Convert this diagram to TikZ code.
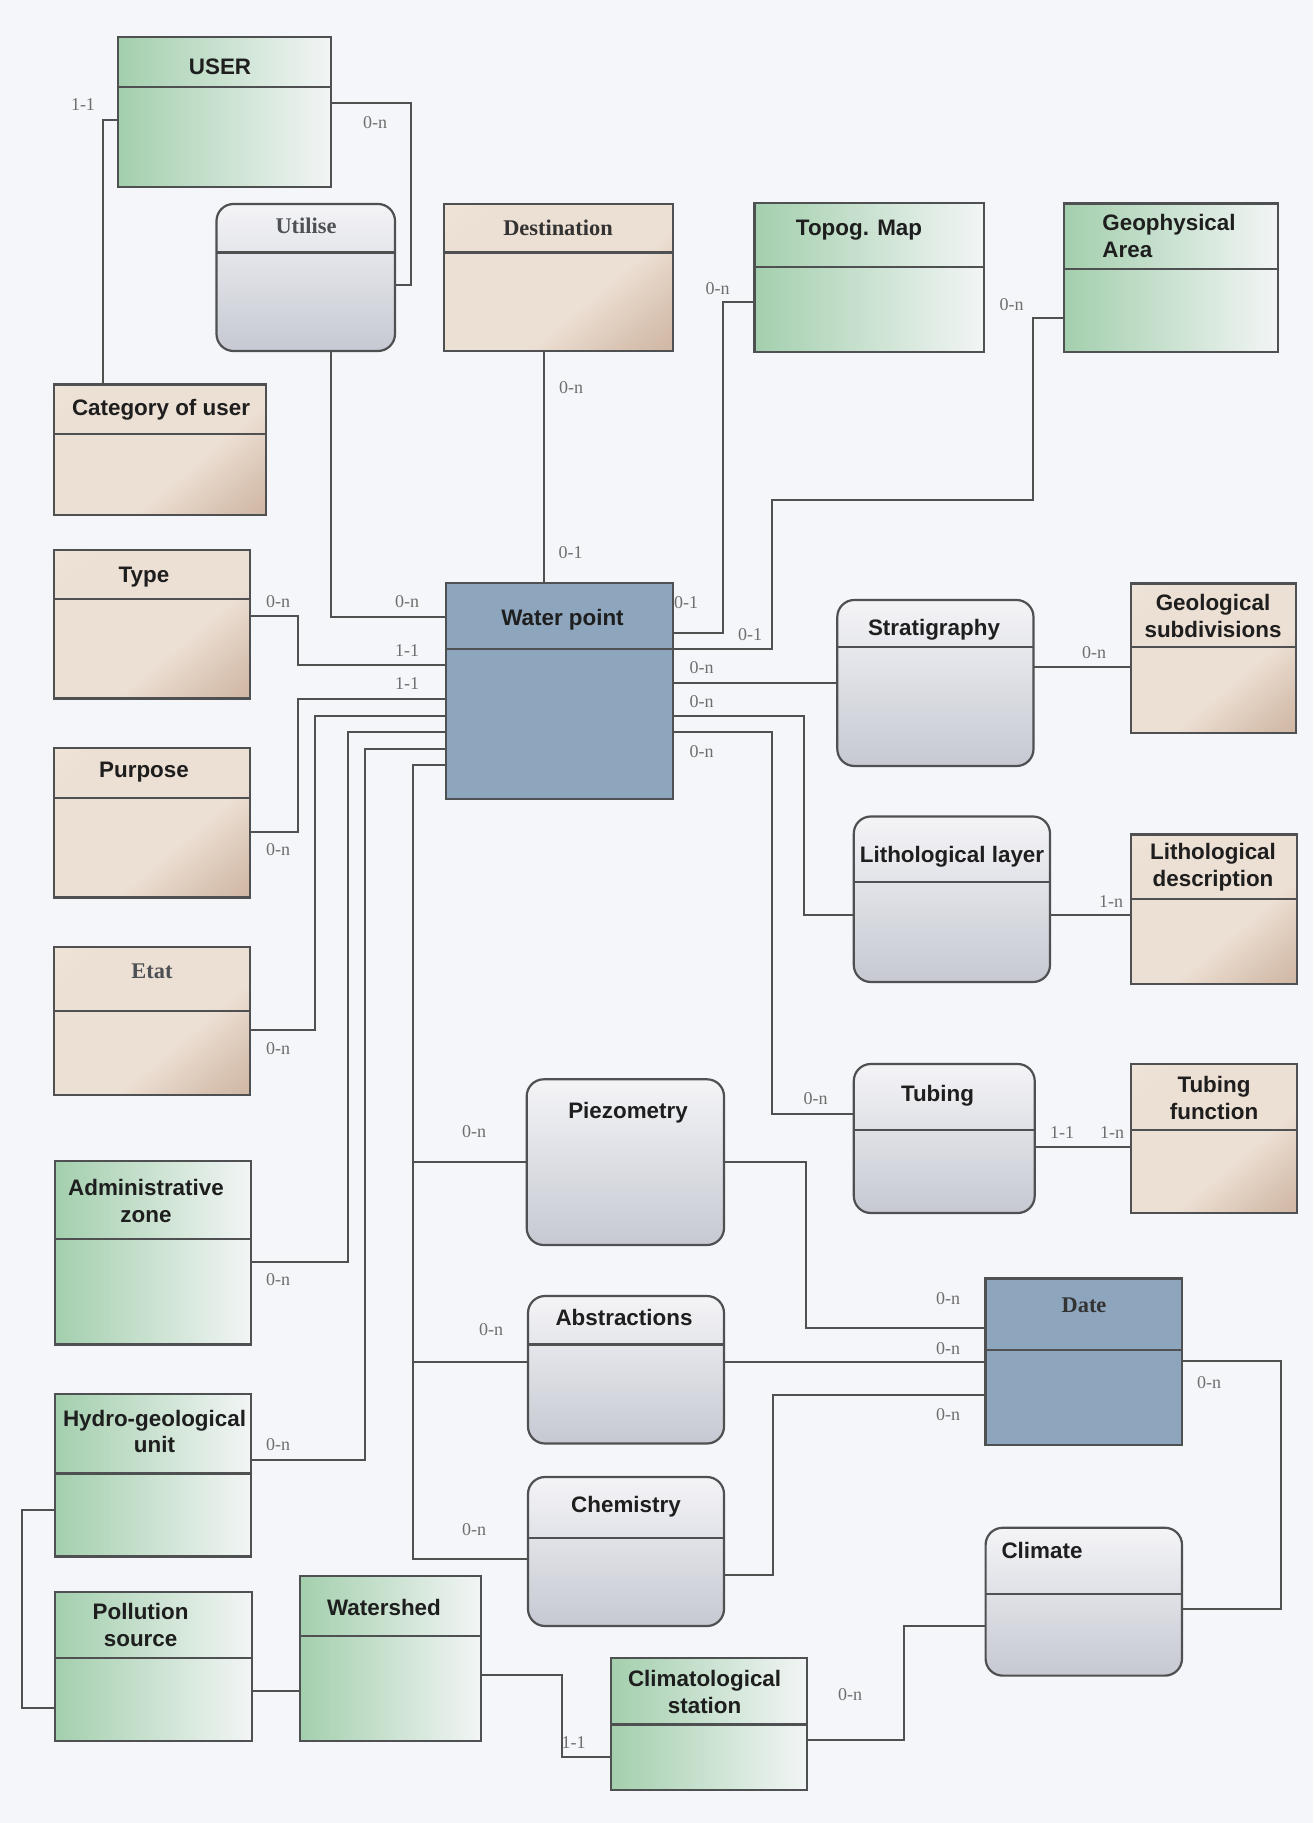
\documentclass[tikz,border=0pt]{standalone}
\usepackage{fontspec}
\setmainfont{Liberation Serif}
\newfontfamily\headsans{Liberation Sans}
\usetikzlibrary{fit}

\definecolor{bgc}{HTML}{F5F6F9}
\definecolor{edgec}{HTML}{4F5052}
\definecolor{wirec}{HTML}{505050}
\definecolor{greenL}{HTML}{A3CFAD}
\definecolor{greenR}{HTML}{F2F5F5}
\definecolor{beigeT}{HTML}{F4E9DF}
\definecolor{beigeM}{HTML}{ECDFD3}
\definecolor{beigeB}{HTML}{C4A690}
\definecolor{relT}{HTML}{F4F4F7}
\definecolor{relB}{HTML}{C6C9D2}
\definecolor{steel}{HTML}{8EA6BD}
\definecolor{cardc}{HTML}{6E6E6E}
\definecolor{titlec}{HTML}{1E1E1E}
\definecolor{serifc}{HTML}{4D5156}

% beige fill: light over most of the box, tan only towards one corner
\pgfdeclareverticalshading{beigeshade}{100bp}{%
  color(0bp)=(beigeB); color(22bp)=(beigeB!55!beigeM); color(40bp)=(beigeM);
  color(75bp)=(beigeM); color(100bp)=(beigeT)}

\begin{document}
\begin{tikzpicture}[x=0.5pt, y=-0.5pt,
  box/.style={draw=edgec, line width=1.1pt, inner sep=0pt, outer sep=0pt},
  greenent/.style={box, left color=greenL, right color=greenR},
  beigeent/.style={box, shading=beigeshade, shading angle=40},
  relbox/.style={box, rounded corners=8.5pt, top color=relT, bottom color=relB},
  blueent/.style={box, fill=steel},
  divider/.style={draw=edgec, line width=1.1pt},
  wire/.style={draw=wirec, line width=0.9pt},
  title/.style={font=\headsans\bfseries\fontsize{11.2}{13.4}\selectfont, text=titlec, align=center, inner sep=0pt},
  stitle/.style={font=\bfseries\fontsize{11.2}{13.4}\selectfont, text=serifc, align=center, inner sep=0pt},
  card/.style={font=\fontsize{9}{10}\selectfont, text=cardc, inner sep=0pt},
]
% page
\fill[bgc] (0,0) rectangle (1313,1823);
\useasboundingbox (0,0) rectangle (1313,1823);

% ---------- entities and associations ----------
\node[greenent, fit={(118,37) (331,187)}] (user) {};
\draw[divider] (user.west |- 0,87) -- (user.east |- 0,87);
\node[title] (user-t) at (220,67) {USER};

\node[relbox, fit={(216.5,204) (395,351)}] (util) {};
\draw[divider] (util.west |- 0,252.6) -- (util.east |- 0,252.6);
\node[stitle] (util-t) at (306,226) {Utilise};

\node[beigeent, fit={(444,204) (673,351)}] (dest) {};
\draw[divider] (dest.west |- 0,252.6) -- (dest.east |- 0,252.6);
\node[stitle, text=black!80] (dest-t) at (558,228) {Destination};

\node[greenent, fit={(754.4,202.8) (984,352)}] (topo) {};
\draw[divider] (topo.west |- 0,266.7) -- (topo.east |- 0,266.7);
\node[title] (topo-t) at (859,230) {Topog. Map};

\node[greenent, fit={(1064.3,203.6) (1277.8,352)}] (geo) {};
\draw[divider] (geo.west |- 0,269.4) -- (geo.east |- 0,269.4);
\node[title, align=left, anchor=west] (geo-t) at (1102,235.7) {Geophysical\\Area};

\node[beigeent, fit={(53.6,384.6) (266,514.7)}] (cat) {};
\draw[divider] (cat.west |- 0,434.4) -- (cat.east |- 0,434.4);
\node[title] (cat-t) at (161,410) {Category of user};

\node[beigeent, fit={(53.6,550) (250,698.5)}] (type) {};
\draw[divider] (type.west |- 0,599) -- (type.east |- 0,599);
\node[title] (type-t) at (144,577) {Type};

\node[beigeent, fit={(53.6,748) (250,897.5)}] (purp) {};
\draw[divider] (purp.west |- 0,798) -- (purp.east |- 0,798);
\node[title] (purp-t) at (144,772) {Purpose};

\node[beigeent, fit={(53.6,947) (250,1095)}] (etat) {};
\draw[divider] (etat.west |- 0,1011) -- (etat.east |- 0,1011);
\node[stitle] (etat-t) at (152,971) {Etat};

\node[blueent, fit={(445.7,582.7) (673,799)}] (wp) {};
\draw[divider] (wp.west |- 0,649) -- (wp.east |- 0,649);
\node[title] (wp-t) at (562.5,620) {Water point};

\node[relbox, fit={(837.3,600) (1033.5,766)}] (strat) {};
\draw[divider] (strat.west |- 0,647.3) -- (strat.east |- 0,647.3);
\node[title] (strat-t) at (934,629.5) {Stratigraphy};

\node[beigeent, fit={(1130.7,583.5) (1295.6,733)}] (gsub) {};
\draw[divider] (gsub.west |- 0,647.3) -- (gsub.east |- 0,647.3);
\node[title] (gsub-t) at (1213,616) {Geological\\subdivisions};

\node[relbox, fit={(853.8,816.5) (1050,982)}] (lith) {};
\draw[divider] (lith.west |- 0,881.7) -- (lith.east |- 0,881.7);
\node[title] (lith-t) at (952,857) {Lithological layer};

\node[beigeent, fit={(1130.7,834.4) (1297,984)}] (ldesc) {};
\draw[divider] (ldesc.west |- 0,898.6) -- (ldesc.east |- 0,898.6);
\node[title] (ldesc-t) at (1213,867.5) {Lithological\\description};

\node[relbox, fit={(853.8,1064) (1034.7,1213)}] (tub) {};
\draw[divider] (tub.west |- 0,1130.3) -- (tub.east |- 0,1130.3);
\node[title] (tub-t) at (937.5,1095.5) {Tubing};

\node[beigeent, fit={(1130.7,1064) (1297,1213)}] (tfun) {};
\draw[divider] (tfun.west |- 0,1130.3) -- (tfun.east |- 0,1130.3);
\node[title] (tfun-t) at (1214,1098) {Tubing\\function};

\node[relbox, fit={(526.7,1079.3) (724,1245)}] (piezo) {};
\node[title] (piezo-t) at (628,1113) {Piezometry};

\node[relbox, fit={(528,1296) (724,1443.5)}] (abst) {};
\draw[divider] (abst.west |- 0,1344.4) -- (abst.east |- 0,1344.4);
\node[title] (abst-t) at (624,1317) {Abstractions};

\node[relbox, fit={(528,1477) (724,1626)}] (chem) {};
\draw[divider] (chem.west |- 0,1538) -- (chem.east |- 0,1538);
\node[title] (chem-t) at (626,1507) {Chemistry};

\node[blueent, fit={(985.5,1278.5) (1182,1445)}] (date) {};
\draw[divider] (date.west |- 0,1350) -- (date.east |- 0,1350);
\node[stitle, text=black!80] (date-t) at (1084,1305) {Date};

\node[relbox, fit={(985.6,1527.8) (1182,1675.6)}] (clim) {};
\draw[divider] (clim.west |- 0,1594) -- (clim.east |- 0,1594);
\node[title] (clim-t) at (1042,1550) {Climate};

\node[greenent, fit={(55,1161.3) (251,1344.4)}] (admin) {};
\draw[divider] (admin.west |- 0,1239.3) -- (admin.east |- 0,1239.3);
\node[title] (admin-t) at (146,1201) {Administrative\\zone};

\node[greenent, fit={(55,1393.7) (251,1556.5)}] (hydro) {};
\draw[divider] (hydro.west |- 0,1473.5) -- (hydro.east |- 0,1473.5);
\node[title] (hydro-t) at (154.5,1431.5) {Hydro-geological\\unit};

\node[greenent, fit={(55,1592) (252,1741)}] (poll) {};
\draw[divider] (poll.west |- 0,1658) -- (poll.east |- 0,1658);
\node[title] (poll-t) at (140.6,1625) {Pollution\\source};

\node[greenent, fit={(300,1576.3) (480.8,1741)}] (wsh) {};
\draw[divider] (wsh.west |- 0,1635.8) -- (wsh.east |- 0,1635.8);
\node[title] (wsh-t) at (384,1607) {Watershed};

\node[greenent, fit={(610.7,1657.7) (806.9,1790)}] (stat) {};
\draw[divider] (stat.west |- 0,1724.4) -- (stat.east |- 0,1724.4);
\node[title] (stat-t) at (704.6,1692) {Climatological\\station};

% ---------- connectors (routed on whole units so they stay crisp) ----------
\draw[wire] (user.west |- 0,120) -| (cat.north -| 103,0);
\draw[wire] (user.east |- 0,103) -- (411,103) |- (util.east |- 0,285);
\draw[wire] (util.south -| 331,0) |- (wp.west |- 0,617);
\draw[wire] (dest.south -| 544,0) -- (wp.north -| 544,0);
\draw[wire] (type.east |- 0,616) -| (298,665) -- (wp.west |- 0,665);
\draw[wire] (purp.east |- 0,832) -| (298,699) -- (wp.west |- 0,699);
\draw[wire] (etat.east |- 0,1030) -| (315,716) -- (wp.west |- 0,716);
\draw[wire] (admin.east |- 0,1262) -| (348,732) -- (wp.west |- 0,732);
\draw[wire] (hydro.east |- 0,1460) -| (365,749) -- (wp.west |- 0,749);
\draw[wire] (wp.west |- 0,765) -| (413,1162) -- (piezo.west |- 0,1162);
\draw[wire] (wp.west |- 0,765) -| (413,1362) -- (abst.west |- 0,1362);
\draw[wire] (wp.west |- 0,765) -| (413,1559) -- (chem.west |- 0,1559);
\draw[wire] (wp.east |- 0,633) -| (723,302) -- (topo.west |- 0,302);
\draw[wire] (wp.east |- 0,649) -| (772,500) -| (1033,318) -- (geo.west |- 0,318);
\draw[wire] (wp.east |- 0,683) -- (strat.west |- 0,683);
\draw[wire] (wp.east |- 0,716) -| (804,915) -- (lith.west |- 0,915);
\draw[wire] (wp.east |- 0,732) -| (772,1114) -- (tub.west |- 0,1114);
\draw[wire] (strat.east |- 0,667) -- (gsub.west |- 0,667);
\draw[wire] (lith.east |- 0,915) -- (ldesc.west |- 0,915);
\draw[wire] (tub.east |- 0,1147) -- (tfun.west |- 0,1147);
\draw[wire] (piezo.east |- 0,1162) -| (806,1328) -- (date.west |- 0,1328);
\draw[wire] (abst.east |- 0,1362) -- (date.west |- 0,1362);
\draw[wire] (chem.east |- 0,1575) -| (773,1395) -- (date.west |- 0,1395);
\draw[wire] (date.east |- 0,1361) -| (1281,1609) -- (clim.east |- 0,1609);
\draw[wire] (clim.west |- 0,1626) -| (904,1740) -- (stat.east |- 0,1740);
\draw[wire] (hydro.west |- 0,1510) -| (22,1708) -- (poll.west |- 0,1708);
\draw[wire] (poll.east |- 0,1691) -- (wsh.west |- 0,1691);
\draw[wire] (wsh.east |- 0,1675) -| (562,1757) -- (stat.west |- 0,1757);

% ---------- cardinalities ----------
\node[card] (k1) at (83,105) {1-1};
\node[card] (k2) at (375,123) {0-n};
\node[card] (k3) at (571,388) {0-n};
\node[card] (k4) at (570.5,553) {0-1};
\node[card] (k5) at (407,602) {0-n};
\node[card] (k6) at (278,602) {0-n};
\node[card] (k7) at (407,651) {1-1};
\node[card] (k8) at (407,684) {1-1};
\node[card] (k9) at (278,850) {0-n};
\node[card] (k10) at (278,1049) {0-n};
\node[card] (k11) at (278,1280) {0-n};
\node[card] (k12) at (278,1445) {0-n};
\node[card] (k13) at (474,1132) {0-n};
\node[card] (k14) at (491,1330) {0-n};
\node[card] (k15) at (474,1530) {0-n};
\node[card] (k16) at (686,603) {0-1};
\node[card] (k17) at (717.6,288.5) {0-n};
\node[card] (k18) at (750,635) {0-1};
\node[card] (k19) at (1011.5,305) {0-n};
\node[card] (k20) at (701.6,668) {0-n};
\node[card] (k21) at (701.6,702) {0-n};
\node[card] (k22) at (701.6,752) {0-n};
\node[card] (k23) at (815.7,1099) {0-n};
\node[card] (k24) at (1094,653) {0-n};
\node[card] (k25) at (1111,902) {1-n};
\node[card] (k26) at (1062,1133) {1-1};
\node[card] (k27) at (1112,1133) {1-n};
\node[card] (k28) at (948,1299) {0-n};
\node[card] (k29) at (948,1349) {0-n};
\node[card] (k30) at (948,1414.5) {0-n};
\node[card] (k31) at (1209,1383) {0-n};
\node[card] (k32) at (850,1695) {0-n};
\node[card] (k33) at (573.6,1743) {1-1};
\end{tikzpicture}
\end{document}
